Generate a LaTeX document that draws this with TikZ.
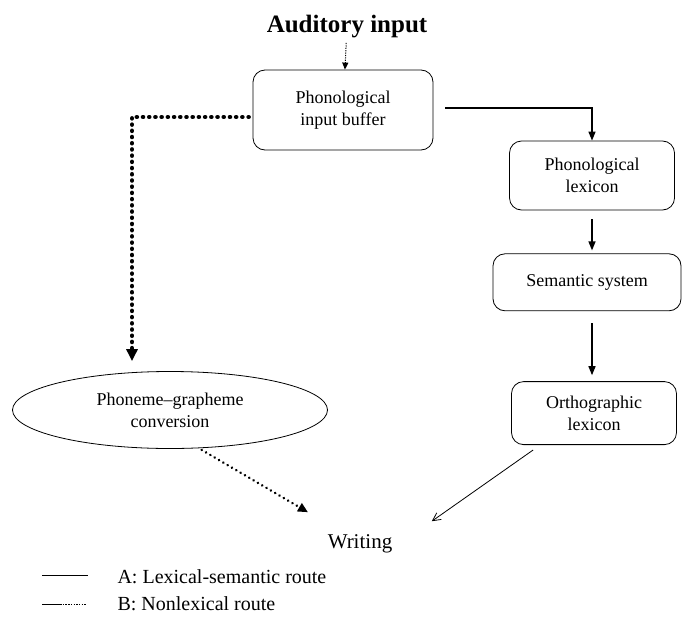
\documentclass[tikz,border=0pt]{standalone}
\usepackage{fontspec}
\setmainfont{Liberation Serif}
\usetikzlibrary{shapes.geometric, arrows.meta, positioning}

\begin{document}
\begin{tikzpicture}[
        x=1pt, y=-1pt,
        box/.style={rectangle, rounded corners=12pt, draw, line width=0.8pt, align=center,
                    inner sep=0pt, font=\fontsize{18}{22}\selectfont},
        oval/.style={ellipse, draw, line width=0.8pt, align=center, inner sep=0pt,
                     minimum width=315pt, minimum height=77pt, font=\fontsize{18}{22}\selectfont},
        arrow/.style={-{Triangle[length=9pt, width=7pt]}, line width=1.4pt},
        thinarrow/.style={-{Straight Barb[length=8pt, width=8pt]}, line width=0.8pt},
        dotarrow/.style={-{Triangle[length=10pt, width=9pt]}, line width=2.8pt,
                         dash pattern=on 0.01pt off 5pt, line cap=round},
        heavydots/.style={-{Triangle[length=12pt, width=11pt]}, line width=4.6pt,
                          dash pattern=on 0.01pt off 6.2pt, line cap=round},
        finedots/.style={-{Triangle[length=7pt, width=6pt]}, line width=1pt,
                         dash pattern=on 1.2pt off 1.2pt}
    ]
        \useasboundingbox (0,0) rectangle (684,618);

        \node[font=\fontsize{25}{28}\selectfont\bfseries] (input) at (347,27) {Auditory input};
        \node[box, minimum width=180pt, minimum height=80pt] (buffer) at (343,110) {Phonological\\input buffer};
        \node[box, minimum width=165pt, minimum height=69pt] (phonlex) at (592,175.5) {Phonological\\lexicon};
        \node[box, minimum width=188pt, minimum height=57pt, below=43pt of phonlex, xshift=-5pt] (semantic) {Semantic system};
        \node[box, minimum width=165pt, minimum height=63pt, below=70pt of semantic, xshift=7pt] (ortho) {Orthographic\\lexicon};
        \node[oval] (pgc) at (170,410) {Phoneme--grapheme\\conversion};
        \node[font=\fontsize{21}{24}\selectfont] (writing) at (360,544) {Writing};
        \coordinate (corner) at (132,117);

        % lexical-semantic route
        \draw[arrow, shorten <=12pt] ([yshift=2pt]buffer.east) -| (phonlex.north);
        \draw[arrow, shorten <=9pt, shorten >=3pt] (phonlex.south) -- (phonlex.south |- semantic.north);
        \draw[arrow, shorten <=12pt, shorten >=6pt] (semantic.south -| phonlex.south) -- (ortho.north -| phonlex.south);
        \draw[thinarrow] (ortho.south west) ++(22pt,-5pt) -- ([xshift=36pt,yshift=10pt]writing.north east);

        % nonlexical route
        \draw[finedots, shorten <=1pt] (input) -- (buffer);
        \draw[heavydots, shorten <=4pt] ([yshift=-7pt]buffer.west) -- (corner) -- ([xshift=-38pt, yshift=10pt]pgc.north);
        \draw[dotarrow, shorten <=2pt] ([xshift=30pt]pgc.south) -- ([xshift=-52pt,yshift=19pt]writing.north);

        % legend
        \draw[line width=0.8pt] (42,575) -- (88,575);
        \draw[line width=0.8pt] (42,604) -- (60,604);
        \draw[line width=0.8pt, dash pattern=on 1.5pt off 1.2pt] (60,604) -- (86,604);
        \node[anchor=west, font=\fontsize{20}{22}\selectfont] (legA) at (114,577) {A: Lexical-semantic route};
        \node[anchor=west, font=\fontsize{20}{22}\selectfont] (legB) at (114,604) {B: Nonlexical route};
    \end{tikzpicture}
\end{document}
